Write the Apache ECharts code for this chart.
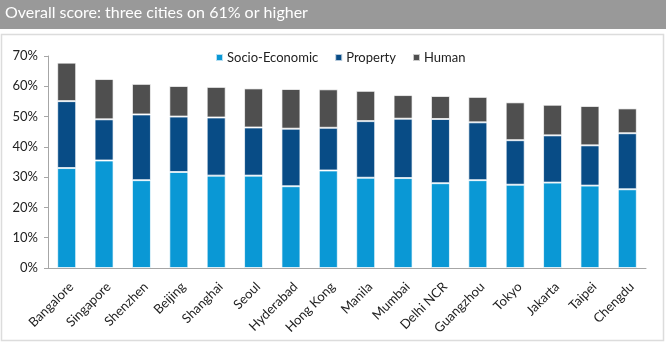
<!DOCTYPE html>
<html>
<head>
<meta charset="utf-8">
<script src="https://cdn.jsdelivr.net/npm/echarts@6/dist/echarts.min.js"></script>
<style>
html,body{margin:0;padding:0;background:#fff;}
#c{width:666px;height:343px;}
</style>
</head>
<body>
<div id="c"></div>
<script>
var categories = ['Bangalore','Singapore','Shenzhen','Beijing','Shanghai','Seoul','Hyderabad','Hong Kong','Manila','Mumbai','Delhi NCR','Guangzhou','Tokyo','Jakarta','Taipei','Chengdu'];
var socioEconomic = [33.0, 35.5, 29.0, 31.7, 30.5, 30.5, 27.0, 32.2, 29.8, 29.7, 28.0, 29.0, 27.5, 28.2, 27.2, 26.0];
var property =      [22.1, 13.6, 21.7, 18.3, 19.2, 15.9, 19.0, 14.1, 18.7, 19.6, 21.2, 19.1, 14.7, 15.6, 13.3, 18.5];
var human =         [12.7, 13.3, 10.1, 10.1, 10.1, 12.9, 13.1, 12.7, 10.0,  7.8,  7.6,  8.4, 12.5, 10.1, 13.0,  8.2];
var yTicks = [0, 10, 20, 30, 40, 50, 60, 70];

var font = 'Lato, "Open Sans", sans-serif';
var chart = echarts.init(document.getElementById('c'), null, {renderer:'canvas'});
var barBorder = {borderColor:'rgba(255,255,255,0.7)', borderWidth:1};
chart.setOption({
  animation:false,
  textStyle:{fontFamily:font},
  graphic:[
    {type:'rect', shape:{x:0,y:0,width:666,height:29}, style:{fill:'#999999'}, silent:true},
    {type:'text', left:5, top:5, style:{text:'Overall score: three cities on 61% or higher', fill:'#ffffff', font:'16px ' + font}},
    {type:'rect', shape:{x:1.5,y:34.5,width:662,height:306}, style:{fill:'none', stroke:'#dcdcdc', lineWidth:1.5}, silent:true}
  ],
  legend:{
    left:210, top:46,
    itemWidth:7, itemHeight:7, itemGap:16,
    icon:'rect',
    textStyle:{fontSize:13, color:'#222', fontFamily:font, padding:[0,0,0,-1]},
    data:['Socio-Economic','Property','Human']
  },
  grid:{left:48, right:20, top:56, bottom:75, containLabel:false},
  xAxis:{
    type:'category', data:categories,
    axisLine:{lineStyle:{color:'#a6a6a6', width:1}},
    axisTick:{show:false},
    axisLabel:{rotate:45, fontSize:13, color:'#222', interval:0, margin:12, verticalAlign:'top', fontFamily:font}
  },
  yAxis:{
    type:'value', min:yTicks[0], max:yTicks[yTicks.length-1], interval:10,
    axisLine:{show:true, lineStyle:{color:'#a6a6a6'}},
    axisTick:{show:true, length:4, lineStyle:{color:'#a6a6a6'}},
    splitLine:{show:false},
    axisLabel:{formatter:'{value}%', fontSize:13, color:'#222', margin:10, fontFamily:font}
  },
  series:[
    {name:'Socio-Economic', type:'bar', stack:'s', data:socioEconomic, barWidth:19, itemStyle:Object.assign({color:'#0A98D5'}, barBorder)},
    {name:'Property', type:'bar', stack:'s', data:property, barWidth:19, itemStyle:Object.assign({color:'#084C86'}, barBorder)},
    {name:'Human', type:'bar', stack:'s', data:human, barWidth:19, itemStyle:Object.assign({color:'#4F4F4F'}, barBorder)}
  ]
});
</script>
</body>
</html>
